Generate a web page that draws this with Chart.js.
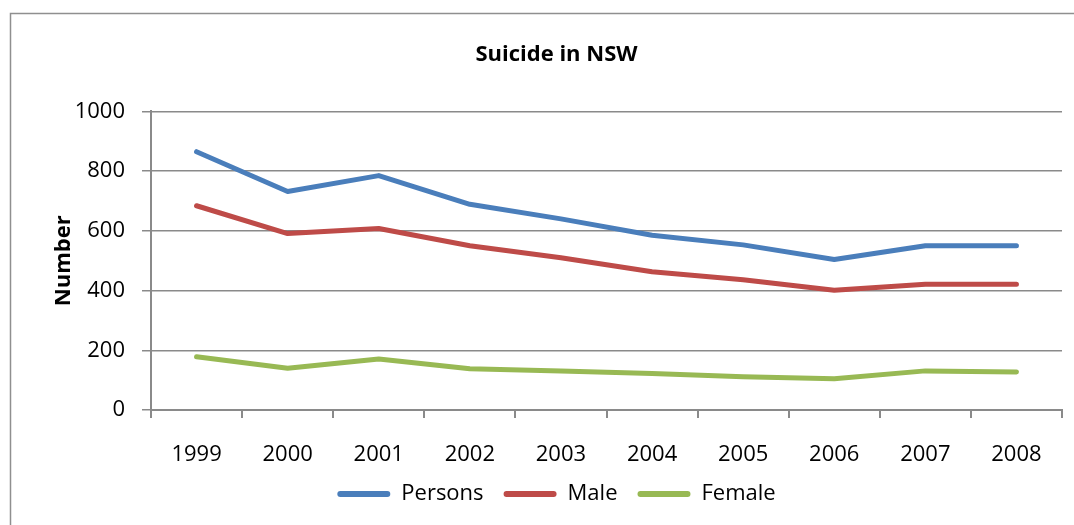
<!DOCTYPE html>
<html>
<head>
<meta charset="utf-8">
<script src="https://cdn.jsdelivr.net/npm/chart.js@4"></script>
<style>
  html, body { margin: 0; padding: 0; background: #fff; }
  #wrap { width: 1074px; height: 525px; }
</style>
</head>
<body>
<div id="wrap"><canvas id="chart"></canvas></div>
<script>
// values
var years = ["1999", "2000", "2001", "2002", "2003", "2004", "2005", "2006", "2007", "2008"];
var persons = [865, 732, 785, 689, 640, 585, 553, 504, 550, 550];
var male = [684, 591, 608, 550, 510, 463, 436, 401, 421, 421];
var female = [178, 140, 171, 138, 131, 122, 111, 105, 131, 127];
var yTicks = [0, 200, 400, 600, 800, 1000];

var FONT = "'Open Sans', 'Noto Sans', sans-serif";
var GRID = "#8a8a8a";

// grey frame round the whole chart, like the office chart box
var frame = {
    id: "frame",
    beforeDraw: function(chart) {
        var ctx = chart.ctx;
        ctx.save();
        ctx.strokeStyle = "#8f8f8f";
        ctx.lineWidth = 1.5;
        ctx.strokeRect(10.5, 13.5, chart.width + 20, chart.height + 20);
        ctx.restore();
    }
};

function line(label, data, color) {
    return {
        label: label,
        data: data,
        borderColor: color,
        backgroundColor: color,
        borderWidth: 5,
        pointRadius: 0,
        tension: 0,
        borderCapStyle: "round",
        borderJoinStyle: "round",
        fill: false
    };
}

new Chart(document.getElementById("chart"), {
    type: "line",
    data: {
        labels: years,
        datasets: [
            line("Persons", persons, "#4a7ebb"),
            line("Male", male, "#be4b48"),
            line("Female", female, "#98b954")
        ]
    },
    options: {
        responsive: true,
        maintainAspectRatio: false,
        animation: false,
        layout: { padding: { left: 51, right: 12, top: 0, bottom: 10 } },
        plugins: {
            title: {
                display: true,
                text: "Suicide in NSW",
                color: "#000",
                font: { family: FONT, size: 22, weight: "bold" },
                padding: { top: 42, bottom: 43 }
            },
            legend: {
                position: "bottom",
                labels: {
                    color: "#000",
                    font: { family: FONT, size: 22 },
                    boxWidth: 53,
                    boxHeight: 6,
                    padding: 20,
                    useBorderRadius: true,
                    borderRadius: 3,
                    generateLabels: function(chart) {
                        return Chart.defaults.plugins.legend.labels.generateLabels(chart).map(function(l) {
                            l.lineWidth = 0;
                            return l;
                        });
                    }
                }
            },
            tooltip: { enabled: false }
        },
        scales: {
            x: {
                offset: true,
                grid: {
                    offset: true,
                    drawOnChartArea: false,
                    drawTicks: true,
                    tickLength: 8,
                    color: GRID,
                    lineWidth: 2
                },
                border: { display: true, color: GRID, width: 2 },
                ticks: {
                    color: "#000",
                    font: { family: FONT, size: 22 },
                    padding: 24,
                    maxRotation: 0
                },
                afterFit: function(scale) { scale.height = 53; }
            },
            y: {
                min: 0,
                max: 1000,
                afterBuildTicks: function(scale) {
                    scale.ticks = yTicks.map(function(v) { return { value: v }; });
                },
                grid: {
                    color: GRID,
                    lineWidth: 1.5,
                    drawTicks: true,
                    tickLength: 9
                },
                border: { display: true, color: GRID, width: 2 },
                ticks: {
                    color: "#000",
                    font: { family: FONT, size: 22 },
                    padding: 17,
                    callback: function(v) { return String(v); }
                },
                title: {
                    display: true,
                    text: "Number",
                    color: "#000",
                    font: { family: FONT, size: 22, weight: "bold" },
                    padding: 0
                },
                afterFit: function(scale) { scale.width = 100; }
            }
        }
    },
    plugins: [frame]
});
</script>
</body>
</html>
